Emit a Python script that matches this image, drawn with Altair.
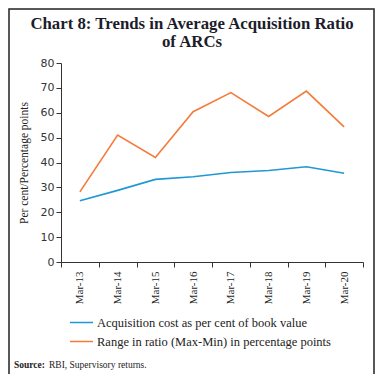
import altair as alt
import pandas as pd

years = ["Mar-13", "Mar-14", "Mar-15", "Mar-16", "Mar-17", "Mar-18", "Mar-19", "Mar-20"]
acq_cost = [24.6, 28.8, 33.2, 34.3, 36.0, 36.8, 38.3, 35.7]
range_ratio = [28.2, 51.0, 42.0, 60.4, 68.1, 58.5, 68.7, 54.3]
series = ["Acquisition cost as per cent of book value",
          "Range in ratio (Max-Min) in percentage points"]
colors = ["#1f98d5", "#f47b3a"]

rows = []
for i, y in enumerate(years):
    rows.append({"year": y, "series": series[0], "value": acq_cost[i]})
    rows.append({"year": y, "series": series[1], "value": range_ratio[i]})
df = pd.DataFrame(rows)

serif = "Liberation Serif"

lines = alt.Chart(df).mark_line(strokeWidth=1.6).encode(
    x=alt.X("year:N", sort=years, title=None,
            scale=alt.Scale(paddingInner=0, paddingOuter=0),
            axis=alt.Axis(labelAngle=-90, labelFont=serif, labelFontSize=11,
                          labelColor="#222", tickBand="extent", domainColor="#333",
                          tickColor="#333", labelPadding=4, tickSize=5)),
    y=alt.Y("value:Q", title="Per cent/Percentage points",
            scale=alt.Scale(domain=[0, 80]),
            axis=alt.Axis(values=list(range(0, 81, 10)), grid=False, labelFont="DejaVu Sans",
                          labelFontSize=11, labelColor="#333", titleFont=serif,
                          titleFontSize=11.5, titleFontWeight="normal", titleColor="#222",
                          domainColor="#333", tickColor="#333", tickSize=5, titlePadding=11)),
    color=alt.Color("series:N", scale=alt.Scale(domain=series, range=colors),
                    legend=alt.Legend(title=None, orient="none", legendX=8, legendY=247,
                                      direction="vertical", symbolType="stroke",
                                      symbolSize=529, symbolStrokeWidth=1.5,
                                      labelFont=serif, labelFontSize=12.5, labelColor="#222",
                                      rowPadding=-4, labelLimit=400, labelOffset=3)),
)

frame_df = pd.DataFrame({"k": ["frame"]})
frame = alt.Chart(frame_df).mark_rect(
    filled=False, strokeWidth=1.5, opacity=1
).encode(
    x=alt.value(-52), x2=alt.value(313), y=alt.value(-54), y2=alt.value(312),
    stroke=alt.value("#222222")
)

src_bold = alt.Chart(pd.DataFrame({"t": ["Source:"]})).mark_text(
    font=serif, fontSize=9.5, fontWeight="bold", align="left", baseline="middle", color="#222"
).encode(text="t:N", x=alt.value(-47), y=alt.value(302))
src = alt.Chart(pd.DataFrame({"t": ["RBI, Supervisory returns."]})).mark_text(
    font=serif, fontSize=9.5, align="left", baseline="middle", color="#222"
).encode(text="t:N", x=alt.value(-12), y=alt.value(302))

chart = alt.layer(lines, frame, src_bold, src).properties(
    width=302, height=199,
    title=alt.TitleParams(["Chart 8: Trends in Average Acquisition Ratio", "of ARCs"],
                          font=serif, fontSize=16.8, fontWeight="bold", color="#1c1c2a",
                          anchor="middle", dx=-20, dy=43, offset=0, lineHeight=18),
    autosize=alt.AutoSizeParams(type="none"),
    padding={"left": 53, "top": 55, "right": 12, "bottom": 112},
).configure_view(stroke=None).configure_legend(labelFont=serif, labelFontSize=12.5)

chart.save("out.html", embed_options={"renderer": "svg", "actions": False})
